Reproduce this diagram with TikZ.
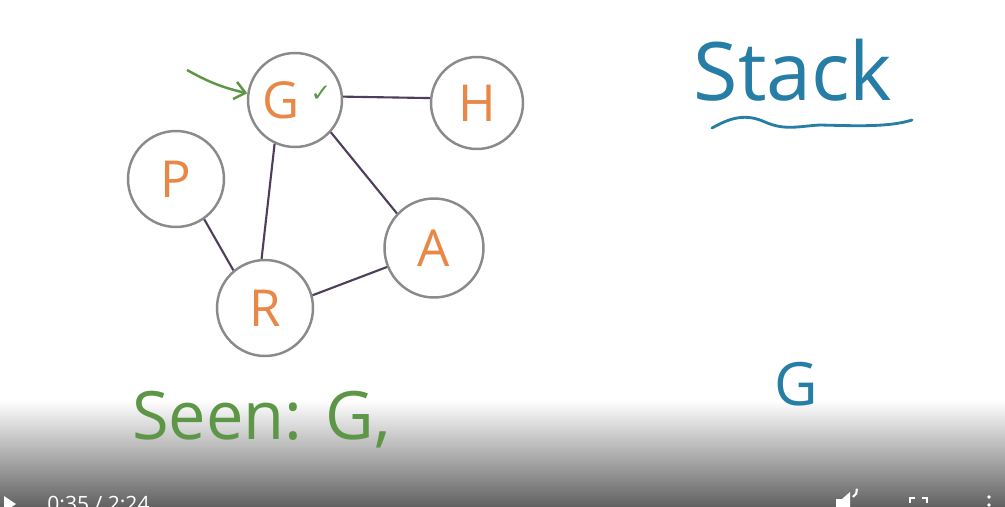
\documentclass[tikz,border=0pt]{standalone}
\usepackage{fontspec}
\setmainfont{Open Sans}
\newfontfamily\symfont{DejaVu Sans}
\usetikzlibrary{arrows.meta, positioning, decorations.pathmorphing}
\definecolor{vertexorange}{RGB}{232, 135, 70}
\definecolor{ringgray}{RGB}{138, 138, 138}
\definecolor{edgepurple}{RGB}{78, 62, 92}
\definecolor{inkgreen}{RGB}{92, 150, 70}
\definecolor{inkblue}{RGB}{38, 125, 165}

\tikzset{
  vertex/.style={circle, draw=ringgray, line width=1.4pt, fill=white,
    text=vertexorange, font=\fontsize{29}{29}\selectfont},
  edge/.style={edgepurple, line width=1.2pt},
}

\begin{document}
\begin{tikzpicture}[x=0.02cm, y=-0.02cm]

    \useasboundingbox (0,0) rectangle (1005,507);
    \fill[white] (0,0) rectangle (1005,507);

    % Player bar background
    \shade[top color=white, middle color=black!10, bottom color=black!62]
      (0,400) rectangle (1005,507);

    % Graph vertices
    \node[vertex, minimum size=1.88cm] (G) at (295,100) {G\kern0.55cm};
    \node[vertex, minimum size=1.84cm] (H) at (477,103) {H};
    \node[vertex, minimum size=1.92cm] (P) at (176,179) {P};
    \node[vertex, minimum size=1.98cm] (A) at (434,248) {A};
    \node[vertex, minimum size=1.92cm] (R) at (265,308) {R};

    % Edges
    \draw[edge] (G.4) -- (H.174);
    \draw[edge] (G.245) -- (R.94);
    \draw[edge] (G.318) -- (A.137);
    \draw[edge] (P.305) -- (R.130);
    \draw[edge] (R.15) -- (A.202);

    % Visited mark and start arrow
    \node[inkgreen, font=\symfont\fontsize{14}{14}\selectfont] (tick) at (321,94) {✓};
    \coordinate (start) at (187,70);
    \draw[inkgreen, line width=1.4pt, -{Straight Barb[length=6pt, width=10pt]}]
      (start) to[bend right=8] (G.172);

    % Stack heading
    \node[inkblue, font=\fontsize{46}{46}\selectfont] (stack) at (793,70) {Stack};
    \coordinate (waveL) at (712,128);
    \coordinate (waveR) at (912,120);
    \draw[inkblue, line width=1.6pt, line cap=round]
      (waveL) .. controls (730,118) and (745,113) .. (765,122)
      .. controls (785,131) and (800,126) .. (820,125)
      .. controls (860,126) and (890,127) .. (waveR);

    % Stack content
    \node[inkblue, font=\fontsize{34}{34}\selectfont] (top) at (796,384) {G};

    % Seen list
    \node[inkgreen, font=\fontsize{38}{38}\selectfont, anchor=west] (seen) at (126,420) {Seen: G,};

    % Player controls
    \begin{scope}
      \clip (0,0) rectangle (1005,507);
      \fill[white] (4,496) -- (16,504) -- (4,512) -- cycle;
      \node[white, font=\fontsize{12}{12}\selectfont, anchor=north west, inner sep=0pt]
        (time) at (47,496) {0:35 / 2:24};
      \fill[white] (836,499) rectangle (842,507);
      \fill[white] (842,499) -- (850,492) -- (850,512) -- (842,507) -- cycle;
      \draw[white, line width=1.2pt] (853,497) arc (60:-10:8);
      \draw[white, line width=1.5pt] (910,503) |- (915,498);
      \draw[white, line width=1.5pt] (922,498) -| (927,503);
      \foreach \dy in {497,505}{
        \fill[white] (989,\dy) circle (1.8);
      }
    \end{scope}

  \end{tikzpicture}
\end{document}
